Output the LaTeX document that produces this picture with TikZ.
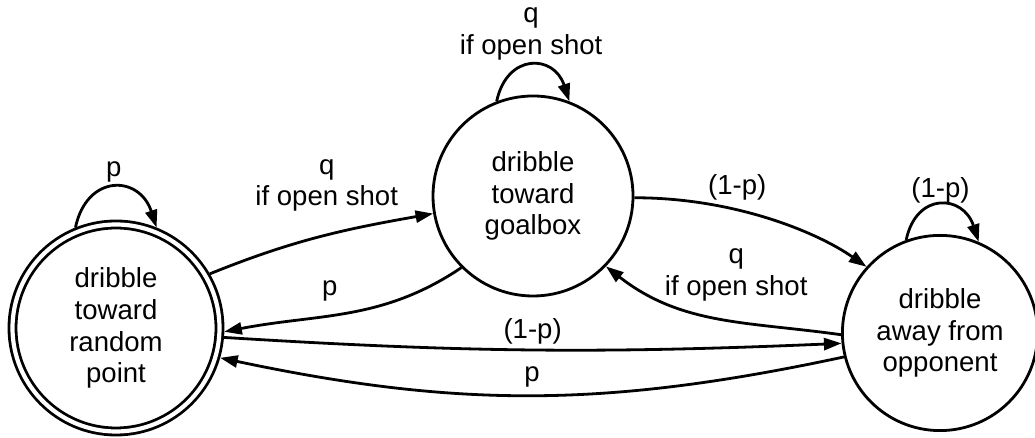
\documentclass[tikz,border=0pt]{standalone}
\usepackage{fontspec}
\setmainfont{Liberation Sans}
\usepackage{tikz}
\usetikzlibrary{positioning}
\usetikzlibrary{arrows.meta}
\definecolor{FSMInk}{RGB}{0,0,0}

\begin{document}
\begin{tikzpicture}[
x=0.125mm,
y=0.125mm,
every node/.style={font=\fontsize{9.8pt}{11.3pt}\selectfont,text=FSMInk},
state/.style={circle,draw=FSMInk,fill=white,line width=0.35mm,minimum size=25mm,align=center,inner sep=0pt,outer sep=0.175mm},
accepting/.style={state,double=white,double distance=0.525mm,minimum size=25.875mm,outer sep=0.6mm},
edgelabel/.style={align=center,inner sep=0.5mm},
trans/.style={-{Triangle[length=2.2mm,width=1.5mm]},line width=0.35mm,draw=FSMInk},
selfloop/.style={trans,out=78,in=108,looseness=1.75}
]

\path[use as bounding box] (0,0) rectangle (1035,438);

\node[accepting] (randompt) at (116,110) {dribble\\toward\\random\\point};
\node[state] (goalbox) at (533,242) {dribble\\toward\\goalbox};
\node[state,minimum size=24.4mm] (awayopp) at (940,105) {dribble\\away from\\opponent};

\draw[selfloop] (randompt.112) to node[edgelabel,above] (randloop) {p} (randompt.68);
\draw[selfloop] (goalbox.111) to node[edgelabel,above] (goalloop) {q\\if open shot} (goalbox.69);
\draw[selfloop] (awayopp.110) to node[edgelabel,above,yshift=-0.5mm] (awayloop) {(1-p)} (awayopp.67);

\draw[trans] (randompt.30) to[out=22,in=190] node[edgelabel,above=2.5mm,xshift=0.9mm] (shotlbla) {q\\if open shot} (goalbox.190);
\draw[trans] (goalbox.225) to[out=214,in=11] node[edgelabel,above=0.8mm,xshift=-2.3mm] (plbla) {p} (randompt.358);
\draw[trans] (randompt.355) to[bend right=3] node[edgelabel,above] (onemplbla) {(1-p)} (awayopp.186);
\draw[trans] (awayopp.194) to[bend left=12] node[edgelabel,above,yshift=0.4mm] (plblb) {p} (randompt.344);
\draw[trans] (goalbox.359) to[out=0,in=145,out distance=12.5mm,in distance=7.5mm] node[pos=0.35,edgelabel,above=0.4mm,xshift=0.6mm] (onemplblb) {(1-p)} (awayopp.138);
\draw[trans] (awayopp.181) to[out=172,in=322] node[edgelabel,above=1.4mm,xshift=2.5mm] (shotlblb) {q\\if open shot} (goalbox.316);

\end{tikzpicture}
\end{document}
